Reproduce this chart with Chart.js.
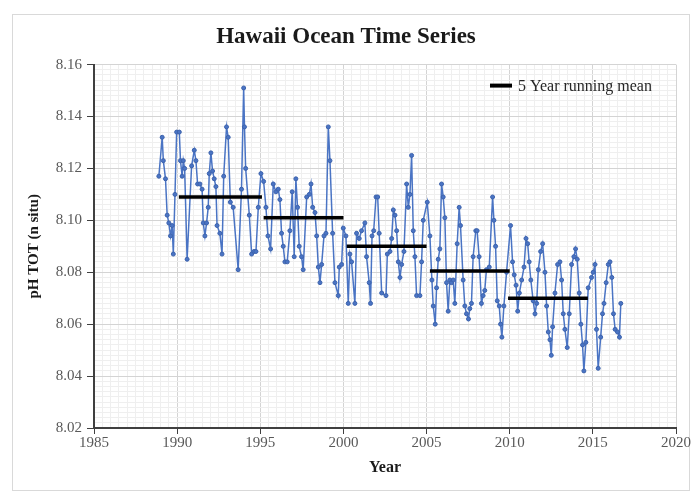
<!DOCTYPE html>
<html>
<head>
<meta charset="utf-8">
<title>Hawaii Ocean Time Series</title>
<script src="https://cdn.jsdelivr.net/npm/chart.js@4.4.1/dist/chart.umd.min.js"></script>
<style>
    html, body { margin: 0; padding: 0; background: #fff; }
</style>
</head>
<body>
<canvas id="hotChart" width="699" height="493"></canvas>
<script>
// pH readings (decimal year)
const years = [
    1988.90, 1989.10, 1989.17, 1989.30, 1989.40, 1989.50, 1989.60, 1989.70, 1989.77, 1989.87, 1989.97,
    1990.13, 1990.20, 1990.30, 1990.37, 1990.45, 1990.60, 1990.87,
    1991.03, 1991.13, 1991.23, 1991.37, 1991.50, 1991.57, 1991.67, 1991.77, 1991.87, 1991.93,
    1992.03, 1992.13, 1992.23, 1992.33, 1992.40, 1992.57, 1992.70, 1992.80, 1992.97,
    1993.07, 1993.20, 1993.37, 1993.67, 1993.87,
    1994.00, 1994.05, 1994.12, 1994.34, 1994.48, 1994.62, 1994.74, 1994.88,
    1995.04, 1995.20, 1995.34, 1995.46, 1995.62, 1995.78, 1995.94,
    1996.08, 1996.18, 1996.28, 1996.38, 1996.48, 1996.62, 1996.78, 1996.92,
    1997.04, 1997.14, 1997.24, 1997.34, 1997.48, 1997.58, 1997.79, 1997.95,
    1998.05, 1998.15, 1998.29, 1998.39, 1998.49, 1998.59, 1998.69, 1998.83, 1998.95,
    1999.09, 1999.19, 1999.35, 1999.49, 1999.69, 1999.75, 1999.89, 1999.99,
    2000.15, 2000.29, 2000.39, 2000.49, 2000.69, 2000.79, 2000.95,
    2001.09, 2001.29, 2001.39, 2001.55, 2001.63, 2001.72, 2001.82, 2001.96,
    2002.06, 2002.15, 2002.30, 2002.56, 2002.64, 2002.80, 2002.90,
    2003.00, 2003.10, 2003.20, 2003.30, 2003.40, 2003.50, 2003.64, 2003.80, 2003.90,
    2004.00, 2004.10, 2004.20, 2004.30, 2004.40, 2004.60, 2004.70, 2004.80,
    2005.04, 2005.20, 2005.32, 2005.40, 2005.52, 2005.60, 2005.70, 2005.80, 2005.90,
    2006.00, 2006.10, 2006.20, 2006.30, 2006.40, 2006.50, 2006.60, 2006.70, 2006.84, 2006.96,
    2007.04, 2007.20, 2007.30, 2007.40, 2007.52, 2007.60, 2007.70, 2007.80, 2007.96,
    2008.04, 2008.16, 2008.30, 2008.40, 2008.50, 2008.60, 2008.77, 2008.97,
    2009.05, 2009.15, 2009.25, 2009.37, 2009.45, 2009.53, 2009.65, 2009.81,
    2010.05, 2010.17, 2010.27, 2010.38, 2010.48, 2010.58, 2010.72, 2010.86, 2010.98,
    2011.08, 2011.17, 2011.27, 2011.41, 2011.52, 2011.62, 2011.72, 2011.86, 2011.98,
    2012.12, 2012.22, 2012.32, 2012.42, 2012.50, 2012.58, 2012.72, 2012.88,
    2013.02, 2013.12, 2013.22, 2013.32, 2013.46, 2013.58, 2013.72, 2013.86, 2013.96,
    2014.06, 2014.18, 2014.28, 2014.38, 2014.46, 2014.58, 2014.72, 2014.92,
    2015.02, 2015.13, 2015.22, 2015.32, 2015.47, 2015.58, 2015.67, 2015.80, 2015.93,
    2016.03, 2016.14, 2016.24, 2016.34, 2016.48, 2016.60, 2016.68
];
const phValues = [
    8.117, 8.132, 8.123, 8.116, 8.102, 8.099, 8.094, 8.098, 8.087, 8.110, 8.134,
    8.134, 8.123, 8.117, 8.123, 8.120, 8.085, 8.121,
    8.127, 8.123, 8.114, 8.114, 8.112, 8.099, 8.094, 8.099, 8.105, 8.118,
    8.126, 8.119, 8.116, 8.113, 8.098, 8.095, 8.087, 8.117, 8.136,
    8.132, 8.107, 8.105, 8.081, 8.112,
    8.151, 8.136, 8.120, 8.102, 8.087, 8.088, 8.088, 8.105,
    8.118, 8.115, 8.105, 8.094, 8.089, 8.114, 8.111,
    8.112, 8.108, 8.095, 8.090, 8.084, 8.084, 8.096, 8.111,
    8.086, 8.116, 8.105, 8.090, 8.086, 8.081, 8.109, 8.110,
    8.114, 8.105, 8.103, 8.094, 8.082, 8.076, 8.083, 8.094, 8.095,
    8.136, 8.123, 8.095, 8.076, 8.071, 8.082, 8.083, 8.097,
    8.094, 8.068, 8.087, 8.084, 8.068, 8.095, 8.093,
    8.096, 8.099, 8.086, 8.076, 8.068, 8.094, 8.096, 8.109,
    8.109, 8.095, 8.072, 8.071, 8.087, 8.088, 8.093,
    8.104, 8.102, 8.096, 8.084, 8.078, 8.083, 8.088, 8.114, 8.105,
    8.110, 8.125, 8.096, 8.086, 8.071, 8.071, 8.084, 8.100,
    8.107, 8.094, 8.077, 8.067, 8.060, 8.074, 8.085, 8.089, 8.114,
    8.109, 8.101, 8.076, 8.065, 8.077, 8.076, 8.077, 8.068, 8.091, 8.105,
    8.098, 8.077, 8.067, 8.064, 8.062, 8.066, 8.068, 8.086, 8.096,
    8.096, 8.086, 8.068, 8.071, 8.073, 8.081, 8.082, 8.109,
    8.100, 8.090, 8.069, 8.067, 8.060, 8.055, 8.067, 8.080,
    8.098, 8.084, 8.079, 8.075, 8.065, 8.072, 8.077, 8.082, 8.093,
    8.091, 8.084, 8.077, 8.069, 8.064, 8.068, 8.081, 8.088, 8.091,
    8.080, 8.067, 8.057, 8.054, 8.048, 8.059, 8.072, 8.083,
    8.084, 8.077, 8.064, 8.058, 8.051, 8.064, 8.083, 8.086, 8.089,
    8.085, 8.072, 8.060, 8.052, 8.042, 8.053, 8.074, 8.078,
    8.080, 8.083, 8.058, 8.043, 8.055, 8.064, 8.068, 8.076, 8.083,
    8.084, 8.078, 8.064, 8.058, 8.057, 8.055, 8.068
];

// 5 year running mean, one flat segment per block
const meanStart = [1990.1, 1995.2, 2000.2, 2005.2, 2009.9];
const meanEnd = [1995.1, 2000.0, 2005.0, 2010.0, 2014.7];
const meanValues = [8.109, 8.101, 8.090, 8.0805, 8.070];

const xTicks = [1985, 1990, 1995, 2000, 2005, 2010, 2015, 2020];
const yTicks = [8.02, 8.04, 8.06, 8.08, 8.10, 8.12, 8.14, 8.16];

const serif = '"Liberation Serif", "Times New Roman", serif';

function isMajor(list, v) {
    return list.some(t => Math.abs(t - v) < 1e-6);
}

// build segments with a null between them so the line breaks
const meanPoints = [];
meanValues.forEach((v, i) => {
    meanPoints.push({ x: meanStart[i], y: v });
    meanPoints.push({ x: meanEnd[i], y: v });
    meanPoints.push({ x: meanEnd[i] + 0.05, y: null });
});

const phPoints = years.map((x, i) => ({ x: x, y: phValues[i] }));

// white background plus the thin grey frame round the figure
const framePlugin = {
    id: 'frame',
    beforeDraw(chart) {
        const ctx = chart.ctx;
        ctx.save();
        ctx.fillStyle = '#ffffff';
        ctx.fillRect(0, 0, chart.width, chart.height);
        ctx.strokeStyle = '#d9d9d9';
        ctx.lineWidth = 1;
        ctx.strokeRect(12.5, 14.5, 677, 476);
        ctx.restore();
    }
};

// legend sits inside the plot, top right
const meanLegend = {
    id: 'meanLegend',
    afterDatasetsDraw(chart) {
        const { ctx, chartArea } = chart;
        const ds = chart.data.datasets[0];
        const y = chartArea.top + 21;
        const x0 = chartArea.right - 186;
        ctx.save();
        ctx.strokeStyle = ds.borderColor;
        ctx.lineWidth = 4;
        ctx.beginPath();
        ctx.moveTo(x0, y);
        ctx.lineTo(x0 + 22, y);
        ctx.stroke();
        ctx.fillStyle = '#262626';
        ctx.font = '16px ' + serif;
        ctx.textBaseline = 'middle';
        ctx.fillText(ds.label, x0 + 28, y + 1);
        ctx.restore();
    }
};

const ctx = document.getElementById('hotChart').getContext('2d');
new Chart(ctx, {
    type: 'line',
    data: {
        datasets: [{
            label: '5 Year running mean',
            data: meanPoints,
            borderColor: '#000000',
            backgroundColor: '#000000',
            borderWidth: 3.5,
            pointRadius: 0,
            spanGaps: false
        }, {
            label: 'pH',
            data: phPoints,
            borderColor: '#4a74c4',
            backgroundColor: '#4a74c4',
            borderWidth: 1.5,
            pointRadius: 2,
            pointBorderWidth: 1,
            pointBorderColor: '#3d63ad',
            pointBackgroundColor: '#4a74c4'
        }]
    },
    options: {
        responsive: false,
        animation: false,
        layout: { padding: { left: 16, right: 23, top: 14, bottom: 16 } },
        plugins: {
            legend: { display: false },
            tooltip: { enabled: false },
            title: {
                display: true,
                text: 'Hawaii Ocean Time Series',
                color: '#1a1a1a',
                font: { family: serif, size: 23, weight: 'bold' },
                padding: { top: 9, bottom: 14 }
            }
        },
        scales: {
            x: {
                type: 'linear',
                min: xTicks[0],
                max: xTicks[xTicks.length - 1],
                ticks: {
                    stepSize: 0.5,
                    autoSkip: false,
                    maxRotation: 0,
                    padding: 0,
                    color: '#595959',
                    font: { family: serif, size: 15 },
                    callback: v => isMajor(xTicks, v) ? String(Math.round(v)) : ''
                },
                grid: {
                    color: c => isMajor(xTicks, c.tick.value) ? '#d4d4d4' : '#efefef',
                    tickColor: c => isMajor(xTicks, c.tick.value) ? '#404040' : 'rgba(0,0,0,0)',
                    tickLength: 6
                },
                border: { color: '#404040', width: 2 },
                title: {
                    display: true,
                    text: 'Year',
                    color: '#1a1a1a',
                    font: { family: serif, size: 16, weight: 'bold' },
                    padding: { top: 0, bottom: 0 }
                },
                afterFit: s => { s.height = 49; }
            },
            y: {
                min: yTicks[0],
                max: yTicks[yTicks.length - 1],
                ticks: {
                    stepSize: 0.002,
                    autoSkip: false,
                    padding: 5,
                    color: '#595959',
                    font: { family: serif, size: 15 },
                    callback: v => isMajor(yTicks, v) ? v.toFixed(2) : ''
                },
                grid: {
                    color: c => isMajor(yTicks, c.tick.value) ? '#d4d4d4' : '#efefef',
                    tickColor: c => isMajor(yTicks, c.tick.value) ? '#404040' : 'rgba(0,0,0,0)',
                    tickLength: 7
                },
                border: { color: '#404040', width: 2 },
                title: {
                    display: true,
                    text: 'pH TOT (n situ)',
                    color: '#1a1a1a',
                    font: { family: serif, size: 15, weight: 'bold' },
                    padding: { top: 9, bottom: 0 }
                },
                afterFit: s => { s.width = 78; }
            }
        }
    },
    plugins: [framePlugin, meanLegend]
});
</script>
</body>
</html>
